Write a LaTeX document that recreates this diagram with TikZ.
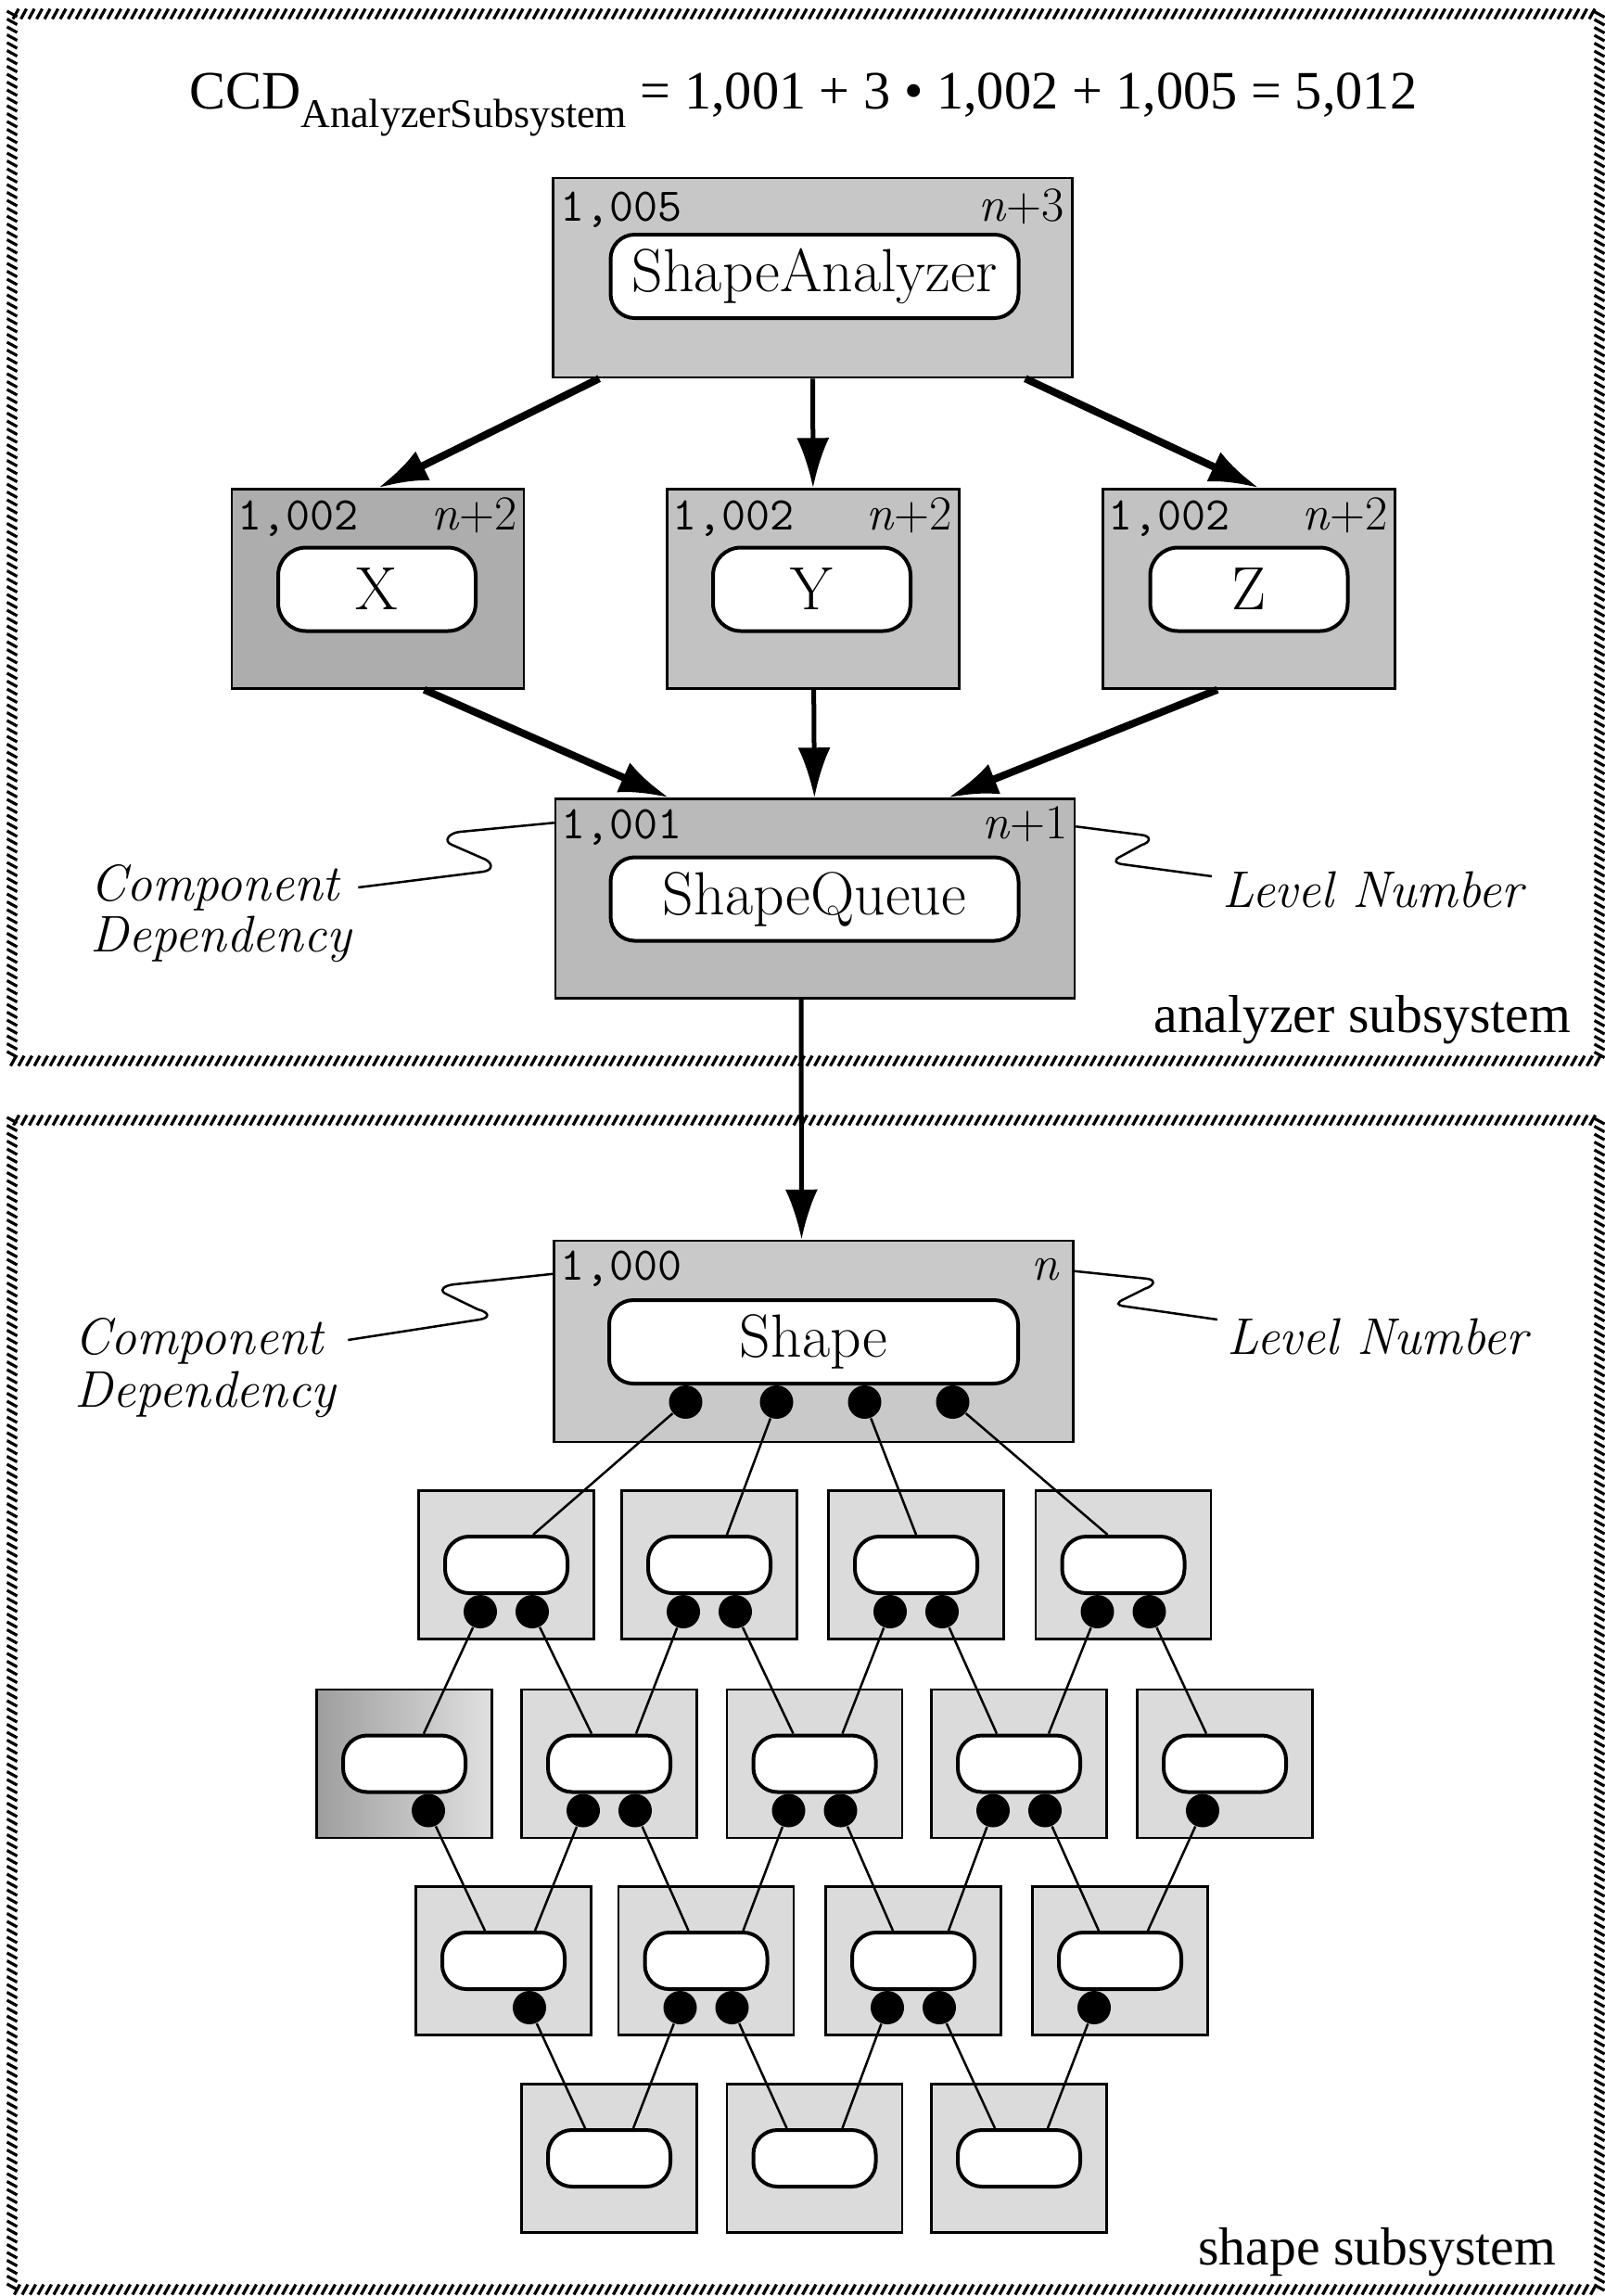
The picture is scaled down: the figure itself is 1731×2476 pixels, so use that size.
\documentclass[tikz,border=0pt]{standalone}
\usepackage{fontspec}
\newfontfamily\timesfont{Liberation Serif}
\usetikzlibrary{arrows.meta,calc,positioning,decorations.markings}

\tikzset{
  hatchframe/.style={postaction={decorate}, decoration={markings,
      mark=between positions 0 and 1 step 0.85mm with {\draw[line width=0.32mm] (-0.3mm,-0.55mm) -- (0.3mm,0.55mm);}}},
  bigbox/.style={draw, line width=0.25mm, fill=black!24, minimum width=56mm, minimum height=21.5mm, inner sep=0},
  midbox/.style={bigbox, minimum width=31.5mm},
  smallbox/.style={draw, line width=0.25mm, fill=black!14, minimum width=18.9mm, minimum height=16mm, inner sep=0},
  bigpill/.style={draw, line width=0.4mm, fill=white, rounded corners=2.6mm, minimum width=44mm, minimum height=9mm, inner sep=0, font=\fontsize{18.7}{22}\selectfont},
  midpill/.style={bigpill, rounded corners=3mm, minimum width=21.3mm},
  smallpill/.style={draw, line width=0.4mm, fill=white, rounded corners=2.6mm, minimum width=13.2mm, minimum height=6.1mm, inner sep=0},
  pindot/.style={circle, fill=black, minimum size=3.6mm, inner sep=0},
  ccdnum/.style={font=\ttfamily\fontsize{14.4}{16}\selectfont, inner sep=0, anchor=base west},
  lvlnum/.style={font=\fontsize{15}{18}\selectfont, inner sep=0, anchor=base east},
  annot/.style={font=\itshape\fontsize{15.8}{18}\selectfont, inner sep=0, anchor=base west},
  subsys/.style={font=\timesfont\fontsize{16.4}{20}\selectfont, inner sep=0, anchor=base east},
  squig/.style={line width=0.25mm},
  deparrow/.style={line width=0.8mm, -{Latex[length=5.4mm,width=3.5mm]}},
  vdeparrow/.style={deparrow, line width=0.5mm},
  uses/.style={line width=0.25mm}
}

\begin{document}
\begin{tikzpicture}[x=0.1mm, y=0.1mm]
\useasboundingbox (0,0) rectangle (1731,-2476);

% Subsystem frames
\path[hatchframe] (13,-15) rectangle (1725,-1144);
\path[hatchframe] (13,-1208) rectangle (1725,-2469);

% Formula
\node[inner sep=0, anchor=base west, font=\timesfont\fontsize{16.6}{20}\selectfont] (ccd) at (204,-117)
  {CCD\raisebox{-2mm}{\fontsize{12.5}{14}\selectfont AnalyzerSubsystem} = 1,001 + 3 • 1,002 + 1,005 = 5,012};

% ShapeAnalyzer
\node[bigbox, fill=black!22] (sa) at (876.5,-299.5) {};
\node[bigpill] (sapill) at (878.5,-298) {ShapeAnalyzer};
\node[ccdnum] (sanum) at ($(sa.north west)+(9,-48)$) {1,005};
\node[lvlnum] (salvl) at ($(sa.north east)+(-9,-48)$) {\textit{n}+3};

% X, Y, Z
\node[midbox, fill=black!32] (xb) at (407.5,-635) {};
\node[midpill] (xpill) at (406.5,-635.5) {X};
\node[ccdnum] (xnum) at ($(xb.north west)+(7,-45)$) {1,002};
\node[lvlnum] (xlvl) at ($(xb.north east)+(-8,-45)$) {\textit{n}+2};

\node[midbox] (yb) at (877,-635) {};
\node[midpill] (ypill) at (875.5,-635.5) {Y};
\node[ccdnum] (ynum) at ($(yb.north west)+(7,-45)$) {1,002};
\node[lvlnum] (ylvl) at ($(yb.north east)+(-8,-45)$) {\textit{n}+2};

\node[midbox] (zb) at (1347,-635) {};
\node[midpill] (zpill) at (1347,-635.5) {Z};
\node[ccdnum] (znum) at ($(zb.north west)+(7,-45)$) {1,002};
\node[lvlnum] (zlvl) at ($(zb.north east)+(-8,-45)$) {\textit{n}+2};

% ShapeQueue
\node[bigbox, fill=black!27] (sq) at (879,-969) {};
\node[bigpill] (sqpill) at (878.5,-969.5) {ShapeQueue};
\node[ccdnum] (sqnum) at ($(sq.north west)+(7,-44)$) {1,001};
\node[lvlnum] (sqlvl) at ($(sq.north east)+(-8,-44)$) {\textit{n}+1};

% dependencies in the analyzer
\draw[deparrow] ($(sa.south west)+(51,0)$) -- (xb.north);
\draw[vdeparrow] (sa) -- (yb);
\draw[deparrow] ($(sa.south east)+(-52,0)$) -- ($(zb.north)+(11,0)$);
\draw[deparrow] ($(xb.south)+(50,0)$) -- ($(sq.north west)+(124,0)$);
\draw[vdeparrow] (yb) -- (sq);
\draw[deparrow] ($(zb.south)+(-34,0)$) -- ($(sq.north east)+(-138,0)$);

% notes on ShapeQueue
\node[annot] (compA) at (97,-971) {Component};
\node[annot] (depA) at (97,-1026) {Dependency};
\node[annot] (lvlA) at (1318,-978) {Level Number};
\draw[squig] ($(compA.base east)+(20,14)$) -- ++(135,17)
  .. controls +(12,2) and +(12,-4) .. ++(-2,15)
  -- ++(-32,14)
  .. controls +(-10,4) and +(-12,-1) .. ++(9,14)
  -- ($(sq.north west)+(0,-27)$);
\draw[squig] ($(sq.north east)+(0,-31)$) -- ++(70,-9)
  .. controls +(12,-1) and +(10,3) .. ++(1,-11)
  -- ++(-22,-12)
  .. controls +(-9,-4) and +(-10,1) .. ++(3,-9)
  -- ($(lvlA.base west)+(-11,33)$);

\node[subsys] (anlbl) at (1695,-1113) {analyzer subsystem};

% Shape
\node[bigbox, minimum height=21.7mm, fill=black!21] (shp) at (877.5,-1446.5) {};
\node[bigpill, minimum width=44.1mm] (shpill) at (877.5,-1447) {Shape};
\node[ccdnum] (shnum) at ($(shp.north west)+(8,-44)$) {1,000};
\node[lvlnum] (shlvl) at ($(shp.north east)+(-15,-44)$) {\textit{n}};
\draw[vdeparrow] ($(sq.south)+(-15,0)$) -- ($(shp.north)+(-13,0)$);

% notes on Shape
\node[annot] (compB) at (80,-1460) {Component};
\node[annot] (depB) at (80,-1517) {Dependency};
\node[annot] (lvlB) at (1323,-1460) {Level Number};
\draw[squig] ($(compB.base east)+(26,15)$) -- ++(142,22)
  .. controls +(12,2) and +(12,-3) .. ++(-2,11)
  -- ++(-33,16)
  .. controls +(-10,4) and +(-12,-1) .. ++(8,11)
  -- ($(shp.north west)+(0,-37)$);
\draw[squig] ($(shp.north east)+(0,-34)$) -- ++(77,-8)
  .. controls +(12,-1) and +(10,3) .. ++(-1,-11)
  -- ++(-22,-11)
  .. controls +(-9,-4) and +(-10,1) .. ++(1,-8)
  -- ($(lvlB.base west)+(-10,37)$);

% row 1
\node[smallbox] (b11) at (546,-1687.5) {};
\node[smallbox] (b12) at (765,-1687.5) {};
\node[smallbox] (b13) at (988,-1687.5) {};
\node[smallbox] (b14) at (1211.5,-1687.5) {};
\node[smallpill] (p11) at (b11) {};
\node[smallpill] (p12) at (b12) {};
\node[smallpill] (p13) at (b13) {};
\node[smallpill] (p14) at (b14) {};

% row 2
\node[smallbox, left color=black!38, right color=black!12] (b21) at (436,-1902) {};
\node[smallbox] (b22) at (657,-1902) {};
\node[smallbox] (b23) at (878.5,-1902) {};
\node[smallbox] (b24) at (1099,-1902) {};
\node[smallbox] (b25) at (1321,-1902) {};
\node[smallpill] (p21) at (b21) {};
\node[smallpill] (p22) at (b22) {};
\node[smallpill] (p23) at (b23) {};
\node[smallpill] (p24) at (b24) {};
\node[smallpill] (p25) at (b25) {};

% row 3
\node[smallbox] (b31) at (543,-2114.5) {};
\node[smallbox] (b32) at (761.5,-2114.5) {};
\node[smallbox] (b33) at (985,-2114.5) {};
\node[smallbox] (b34) at (1208,-2114.5) {};
\node[smallpill] (p31) at (b31) {};
\node[smallpill] (p32) at (b32) {};
\node[smallpill] (p33) at (b33) {};
\node[smallpill] (p34) at (b34) {};

% row 4
\node[smallbox] (b41) at (657,-2327.5) {};
\node[smallbox] (b42) at (878.5,-2327.5) {};
\node[smallbox] (b43) at (1099,-2327.5) {};
\node[smallpill] (p41) at (b41) {};
\node[smallpill] (p42) at (b42) {};
\node[smallpill] (p43) at (b43) {};

% dots
\node[pindot] (sd1) at ($(shpill.south)+(-138,-18)$) {};
\node[pindot] (sd2) at ($(shpill.south)+(-40,-18)$) {};
\node[pindot] (sd3) at ($(shpill.south)+(55,-18)$) {};
\node[pindot] (sd4) at ($(shpill.south)+(150,-18)$) {};

\node[pindot] (d11l) at ($(p11.south)+(-28,-18)$) {};
\node[pindot] (d11r) at ($(p11.south)+(28,-18)$) {};
\node[pindot] (d12l) at ($(p12.south)+(-28,-18)$) {};
\node[pindot] (d12r) at ($(p12.south)+(28,-18)$) {};
\node[pindot] (d13l) at ($(p13.south)+(-28,-18)$) {};
\node[pindot] (d13r) at ($(p13.south)+(28,-18)$) {};
\node[pindot] (d14l) at ($(p14.south)+(-28,-18)$) {};
\node[pindot] (d14r) at ($(p14.south)+(28,-18)$) {};

\node[pindot] (d21r) at ($(p21.south)+(26,-18)$) {};
\node[pindot] (d22l) at ($(p22.south)+(-28,-18)$) {};
\node[pindot] (d22r) at ($(p22.south)+(28,-18)$) {};
\node[pindot] (d23l) at ($(p23.south)+(-28,-18)$) {};
\node[pindot] (d23r) at ($(p23.south)+(28,-18)$) {};
\node[pindot] (d24l) at ($(p24.south)+(-28,-18)$) {};
\node[pindot] (d24r) at ($(p24.south)+(28,-18)$) {};
\node[pindot] (d25l) at ($(p25.south)+(-24,-18)$) {};

\node[pindot] (d31r) at ($(p31.south)+(28,-18)$) {};
\node[pindot] (d32l) at ($(p32.south)+(-28,-18)$) {};
\node[pindot] (d32r) at ($(p32.south)+(28,-18)$) {};
\node[pindot] (d33l) at ($(p33.south)+(-28,-18)$) {};
\node[pindot] (d33r) at ($(p33.south)+(28,-18)$) {};
\node[pindot] (d34l) at ($(p34.south)+(-28,-18)$) {};

% Shape to row 1
\draw[uses] (sd1) -- ($(p11.north)+(29,0)$);
\draw[uses] (sd2) -- ($(p12.north)+(19,0)$);
\draw[uses] (sd3) -- (p13.north);
\draw[uses] (sd4) -- ($(p14.north)+(-17,0)$);

% row 1 to row 2
\draw[uses] (d11l) -- ($(p21.north)+(21,0)$);
\draw[uses] (d11r) -- ($(p22.north)+(-19,0)$);
\draw[uses] (d12l) -- ($(p22.north)+(29,0)$);
\draw[uses] (d12r) -- ($(p23.north)+(-23,0)$);
\draw[uses] (d13l) -- ($(p23.north)+(30,0)$);
\draw[uses] (d13r) -- ($(p24.north)+(-24,0)$);
\draw[uses] (d14l) -- ($(p24.north)+(32,0)$);
\draw[uses] (d14r) -- ($(p25.north)+(-20,0)$);

% row 2 to row 3
\draw[uses] (d21r) -- ($(p31.north)+(-20,0)$);
\draw[uses] (d22l) -- ($(p31.north)+(34,0)$);
\draw[uses] (d22r) -- ($(p32.north)+(-19,0)$);
\draw[uses] (d23l) -- ($(p32.north)+(40,0)$);
\draw[uses] (d23r) -- ($(p33.north)+(-22,0)$);
\draw[uses] (d24l) -- ($(p33.north)+(38,0)$);
\draw[uses] (d24r) -- ($(p34.north)+(-23,0)$);
\draw[uses] (d25l) -- ($(p34.north)+(30,0)$);

% row 3 to row 4
\draw[uses] (d31r) -- ($(p41.north)+(-26,0)$);
\draw[uses] (d32l) -- ($(p41.north)+(26,0)$);
\draw[uses] (d32r) -- ($(p42.north)+(-30,0)$);
\draw[uses] (d33l) -- ($(p42.north)+(30,0)$);
\draw[uses] (d33r) -- ($(p43.north)+(-26,0)$);
\draw[uses] (d34l) -- ($(p43.north)+(31,0)$);

\node[subsys] (shlbl) at (1679,-2442) {shape subsystem};

\end{tikzpicture}
\end{document}
